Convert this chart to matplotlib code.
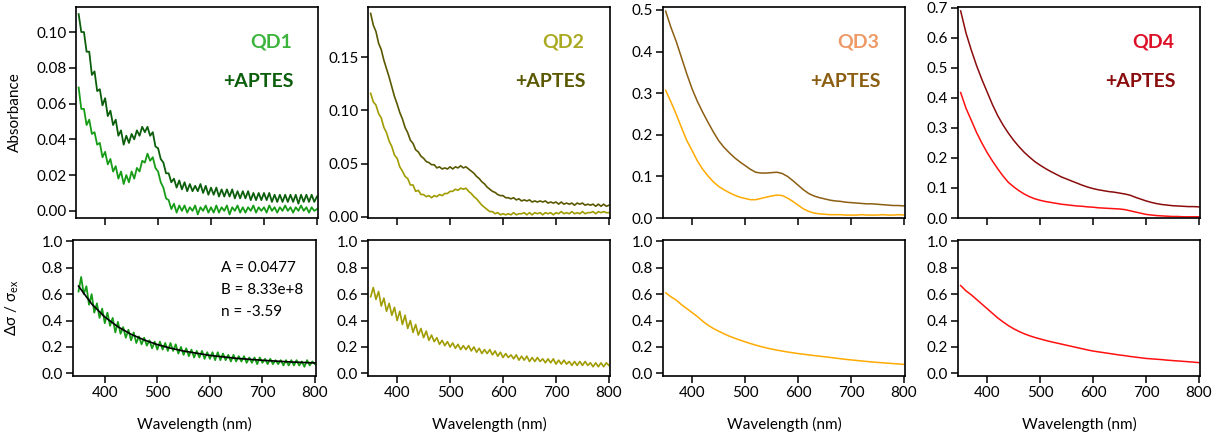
import numpy as np
import matplotlib
matplotlib.use("Agg")
import matplotlib.pyplot as plt

plt.rcParams['font.family'] = ['Lato', 'DejaVu Sans']
plt.rcParams['font.size'] = 11

# --- data (wavelength grid 350-800 nm) ---
# top row: absorbance, 5 nm steps for QD1/QD2, 10 nm steps for QD3/QD4
qd1 = [0.069, 0.057, 0.057, 0.048, 0.051, 0.043, 0.044, 0.037, 0.038, 0.030,
       0.033, 0.026, 0.029, 0.022, 0.025, 0.018, 0.022, 0.015, 0.020, 0.016,
       0.022, 0.018, 0.024, 0.022, 0.028, 0.027, 0.032, 0.028, 0.030, 0.024,
       0.022, 0.016, 0.013, 0.007, 0.006, 0.001, 0.004, -0.001, 0.003, 0.000,
       0.003, -0.001, 0.002, 0.000, 0.003, -0.002, 0.002, 0.000, 0.003, -0.001,
       0.002, -0.001, 0.003, -0.001, 0.002, 0.000, 0.003, -0.002, 0.002, 0.000,
       0.003, -0.001, 0.002, -0.001, 0.002, 0.000, 0.003, -0.001, 0.002, 0.000,
       0.002, -0.001, 0.003, 0.000, 0.002, -0.001, 0.002, 0.000, 0.003, 0.000,
       0.002, -0.001, 0.002, 0.000, 0.003, 0.000, 0.002, -0.001, 0.002, 0.000,
       0.001]
qd1_aptes = [0.110, 0.100, 0.100, 0.089, 0.089, 0.076, 0.078, 0.067, 0.068, 0.059,
             0.063, 0.053, 0.056, 0.048, 0.051, 0.042, 0.045, 0.037, 0.042, 0.038,
             0.043, 0.040, 0.045, 0.042, 0.047, 0.044, 0.047, 0.042, 0.044, 0.036,
             0.035, 0.029, 0.027, 0.021, 0.021, 0.016, 0.018, 0.013, 0.017, 0.012,
             0.016, 0.011, 0.015, 0.011, 0.014, 0.011, 0.015, 0.010, 0.014, 0.009,
             0.013, 0.009, 0.013, 0.008, 0.012, 0.008, 0.012, 0.008, 0.012, 0.007,
             0.011, 0.007, 0.011, 0.007, 0.011, 0.006, 0.010, 0.006, 0.010, 0.006,
             0.010, 0.006, 0.010, 0.005, 0.009, 0.005, 0.009, 0.005, 0.009, 0.005,
             0.009, 0.005, 0.009, 0.004, 0.009, 0.005, 0.009, 0.005, 0.009, 0.005,
             0.008]
qd2 = [0.116, 0.108, 0.105, 0.097, 0.093, 0.084, 0.079, 0.071, 0.066, 0.058,
       0.055, 0.047, 0.043, 0.038, 0.036, 0.030, 0.030, 0.024, 0.025, 0.021,
       0.021, 0.019, 0.020, 0.018, 0.020, 0.019, 0.021, 0.020, 0.022, 0.022,
       0.024, 0.024, 0.026, 0.025, 0.027, 0.026, 0.027, 0.024, 0.022, 0.019,
       0.017, 0.014, 0.011, 0.009, 0.007, 0.005, 0.005, 0.003, 0.004, 0.002,
       0.003, 0.002, 0.003, 0.002, 0.004, 0.002, 0.003, 0.003, 0.004, 0.002,
       0.004, 0.002, 0.004, 0.003, 0.004, 0.002, 0.004, 0.003, 0.004, 0.002,
       0.004, 0.003, 0.005, 0.003, 0.004, 0.003, 0.005, 0.003, 0.004, 0.003,
       0.005, 0.003, 0.004, 0.004, 0.005, 0.003, 0.005, 0.004, 0.005, 0.004,
       0.004]
qd2_aptes = [0.191, 0.180, 0.174, 0.163, 0.157, 0.147, 0.139, 0.131, 0.122, 0.113,
             0.106, 0.098, 0.092, 0.084, 0.079, 0.072, 0.069, 0.063, 0.061, 0.057,
             0.055, 0.052, 0.051, 0.049, 0.049, 0.046, 0.047, 0.045, 0.046, 0.045,
             0.047, 0.045, 0.047, 0.046, 0.048, 0.046, 0.047, 0.045, 0.043, 0.041,
             0.038, 0.036, 0.033, 0.031, 0.028, 0.026, 0.024, 0.023, 0.021, 0.020,
             0.020, 0.018, 0.018, 0.017, 0.018, 0.016, 0.017, 0.015, 0.016, 0.015,
             0.016, 0.014, 0.015, 0.014, 0.015, 0.014, 0.015, 0.013, 0.014, 0.013,
             0.014, 0.012, 0.014, 0.012, 0.013, 0.012, 0.013, 0.011, 0.013, 0.012,
             0.013, 0.011, 0.012, 0.011, 0.012, 0.010, 0.012, 0.010, 0.012, 0.010,
             0.011]
qd3 = [0.307, 0.279, 0.249, 0.217, 0.186, 0.162, 0.137, 0.117, 0.101, 0.087,
       0.076, 0.068, 0.061, 0.055, 0.050, 0.047, 0.044, 0.044, 0.047, 0.050,
       0.053, 0.055, 0.054, 0.048, 0.040, 0.031, 0.022, 0.016, 0.012, 0.010,
       0.009, 0.008, 0.008, 0.008, 0.007, 0.007, 0.007, 0.008, 0.007, 0.007,
       0.007, 0.008, 0.007, 0.007, 0.008, 0.007]
qd3_aptes = [0.497, 0.458, 0.424, 0.385, 0.346, 0.310, 0.280, 0.254, 0.230, 0.207,
             0.186, 0.170, 0.157, 0.145, 0.135, 0.126, 0.117, 0.110, 0.108, 0.108,
             0.109, 0.110, 0.107, 0.100, 0.090, 0.079, 0.068, 0.059, 0.053, 0.049,
             0.046, 0.043, 0.041, 0.040, 0.038, 0.037, 0.036, 0.035, 0.034, 0.034,
             0.033, 0.032, 0.031, 0.030, 0.030, 0.029]
qd4 = [0.418, 0.366, 0.326, 0.285, 0.250, 0.218, 0.190, 0.164, 0.140, 0.119,
       0.104, 0.091, 0.080, 0.071, 0.064, 0.059, 0.055, 0.052, 0.049, 0.046,
       0.044, 0.042, 0.040, 0.039, 0.037, 0.036, 0.034, 0.033, 0.032, 0.031,
       0.030, 0.028, 0.024, 0.020, 0.016, 0.012, 0.010, 0.008, 0.007, 0.006,
       0.005, 0.005, 0.004, 0.004, 0.004, 0.004]
qd4_aptes = [0.690, 0.617, 0.560, 0.508, 0.462, 0.420, 0.378, 0.341, 0.310, 0.283,
             0.259, 0.238, 0.219, 0.203, 0.188, 0.176, 0.165, 0.155, 0.146, 0.137,
             0.130, 0.123, 0.116, 0.109, 0.103, 0.098, 0.094, 0.091, 0.088, 0.086,
             0.083, 0.080, 0.076, 0.069, 0.063, 0.057, 0.052, 0.048, 0.045, 0.043,
             0.041, 0.040, 0.039, 0.038, 0.038, 0.037]

# bottom row: delta sigma / sigma_ex (5 nm for QD1/QD2, 10 nm for QD3/QD4)
ds1 = [0.62, 0.73, 0.60, 0.66, 0.52, 0.60, 0.46, 0.53, 0.42, 0.49,
       0.38, 0.46, 0.36, 0.42, 0.31, 0.39, 0.30, 0.35, 0.27, 0.33,
       0.25, 0.31, 0.23, 0.28, 0.22, 0.27, 0.21, 0.25, 0.19, 0.24,
       0.18, 0.24, 0.18, 0.23, 0.17, 0.23, 0.17, 0.22, 0.15, 0.20,
       0.14, 0.19, 0.13, 0.18, 0.12, 0.17, 0.12, 0.17, 0.11, 0.16,
       0.11, 0.16, 0.10, 0.16, 0.10, 0.15, 0.10, 0.14, 0.09, 0.14,
       0.09, 0.13, 0.09, 0.13, 0.08, 0.12, 0.08, 0.12, 0.07, 0.12,
       0.08, 0.11, 0.07, 0.11, 0.07, 0.10, 0.07, 0.10, 0.06, 0.10,
       0.06, 0.10, 0.06, 0.10, 0.06, 0.09, 0.05, 0.10, 0.06, 0.09,
       0.07]
ds2 = [0.58, 0.65, 0.56, 0.62, 0.51, 0.57, 0.47, 0.53, 0.44, 0.50,
       0.40, 0.47, 0.37, 0.44, 0.34, 0.40, 0.31, 0.37, 0.29, 0.34,
       0.27, 0.32, 0.25, 0.29, 0.24, 0.27, 0.22, 0.25, 0.21, 0.24,
       0.20, 0.23, 0.19, 0.22, 0.18, 0.21, 0.18, 0.21, 0.17, 0.20,
       0.16, 0.19, 0.15, 0.18, 0.15, 0.18, 0.14, 0.17, 0.13, 0.16,
       0.12, 0.15, 0.12, 0.14, 0.11, 0.14, 0.10, 0.13, 0.10, 0.13,
       0.09, 0.12, 0.09, 0.12, 0.09, 0.11, 0.08, 0.11, 0.08, 0.11,
       0.07, 0.10, 0.07, 0.10, 0.07, 0.09, 0.06, 0.09, 0.06, 0.09,
       0.06, 0.09, 0.06, 0.08, 0.05, 0.08, 0.05, 0.08, 0.05, 0.08,
       0.06]
ds3 = [0.61, 0.58, 0.555, 0.52, 0.49, 0.46, 0.43, 0.395, 0.365, 0.34,
       0.32, 0.30, 0.282, 0.267, 0.252, 0.239, 0.226, 0.214, 0.203, 0.193,
       0.184, 0.176, 0.169, 0.162, 0.156, 0.150, 0.145, 0.140, 0.135, 0.130,
       0.126, 0.121, 0.116, 0.111, 0.106, 0.102, 0.098, 0.094, 0.090, 0.086,
       0.083, 0.080, 0.077, 0.074, 0.071, 0.068]
ds4 = [0.665, 0.625, 0.595, 0.56, 0.525, 0.49, 0.455, 0.42, 0.39, 0.362,
       0.338, 0.318, 0.300, 0.285, 0.272, 0.261, 0.250, 0.240, 0.231, 0.222,
       0.213, 0.204, 0.195, 0.186, 0.177, 0.169, 0.163, 0.157, 0.151, 0.145,
       0.139, 0.134, 0.128, 0.123, 0.118, 0.113, 0.110, 0.107, 0.104, 0.100,
       0.097, 0.094, 0.091, 0.088, 0.085, 0.081]

# fit curve for QD1 (A + B * wl^n)
fit_wl = [350, 375, 400, 425, 450, 475, 500, 525, 550, 600, 650, 700, 750, 800]
fit_val = [0.661, 0.526, 0.427, 0.353, 0.296, 0.253, 0.218, 0.191, 0.169,
           0.136, 0.114, 0.099, 0.087, 0.079]

names = ['QD1', 'QD2', 'QD3', 'QD4']
top_data = [(qd1, qd1_aptes), (qd2, qd2_aptes), (qd3, qd3_aptes), (qd4, qd4_aptes)]
bottom_data = [ds1, ds2, ds3, ds4]
line_col = ['#169c16', '#a09c00', '#ffaa00', '#ff1010']
aptes_col = ['#0b5e0b', '#5a5800', '#8c5e12', '#8b0c0c']
name_col = ['#3cb43c', '#aaaa22', '#ee9966', '#dd1028']
lws = [1.3, 1.2, 1.1, 1.1]
ylims = [(-0.004, 0.114), (-0.001, 0.197), (0, 0.507), (0, 0.703)]
yticks = [np.arange(0, 0.101, 0.02), [0, 0.05, 0.10, 0.15],
          np.arange(0, 0.51, 0.1), np.arange(0, 0.71, 0.1)]
yfmt = ['%.2f', '%.2f', '%.1f', '%.1f']

W, H = 1231, 432
fig = plt.figure(figsize=(W / 100, H / 100), dpi=100)

lefts = [76, 368, 663, 958]
width = 242


def style(ax):
    for s in ax.spines.values():
        s.set_linewidth(1.2)
    ax.tick_params(direction='out', length=5, width=1.1, labelsize=11, pad=2)
    ax.set_xticks([400, 500, 600, 700, 800])


for i in range(4):
    # top row
    ax = fig.add_axes([lefts[i] / W, (H - 218) / H, width / W, 211 / H])
    light, dark = top_data[i]
    ax.plot(np.linspace(350, 800, len(dark)), dark, color=aptes_col[i], lw=lws[i])
    ax.plot(np.linspace(350, 800, len(light)), light, color=line_col[i], lw=lws[i])
    ax.set_xlim(345, 802)
    ax.set_ylim(*ylims[i])
    ax.set_yticks(yticks[i])
    ax.set_yticklabels([yfmt[i] % v for v in yticks[i]])
    style(ax)
    ax.set_xticklabels([])
    ax.text(0.895, 0.834, names[i], transform=ax.transAxes, ha='right', va='center',
            fontsize=14, fontweight='bold', color=name_col[i])
    ax.text(0.900, 0.645, '+APTES', transform=ax.transAxes, ha='right', va='center',
            fontsize=14, fontweight='bold', color=aptes_col[i])
    if i == 0:
        ax.set_ylabel('Absorbance', fontsize=11)
        ax.yaxis.set_label_coords(-0.225, 0.5)

    # bottom row
    bl = 73 if i == 0 else lefts[i]
    bw = 316 - 73 if i == 0 else width
    axb = fig.add_axes([bl / W, (H - 376) / H, bw / W, 136 / H])
    vals = bottom_data[i]
    axb.plot(np.linspace(350, 800, len(vals)), vals, color=line_col[i], lw=lws[i])
    if i == 0:
        axb.plot(fit_wl, fit_val, color='black', lw=1.2)
        axb.text(0.61, 0.794, 'A = 0.0477', transform=axb.transAxes, va='center', fontsize=11)
        axb.text(0.61, 0.632, 'B = 8.33e+8', transform=axb.transAxes, va='center', fontsize=11)
        axb.text(0.61, 0.471, 'n = -3.59', transform=axb.transAxes, va='center', fontsize=11)
        axb.set_xlim(339.5, 802)
        axb.set_ylabel('Δσ / σ$_{\\mathregular{ex}}$', fontsize=11)
        axb.yaxis.set_label_coords(-0.215, 0.5)
    else:
        axb.set_xlim(345, 802)
    axb.set_ylim(-0.02, 1.01)
    bt = np.arange(0, 1.01, 0.2)
    axb.set_yticks(bt)
    axb.set_yticklabels(['%.1f' % v for v in bt])
    style(axb)
    axb.set_xlabel('Wavelength (nm)', fontsize=11)
    axb.xaxis.set_label_coords(0.5, -0.30)

fig.savefig('out.png', dpi=100)
